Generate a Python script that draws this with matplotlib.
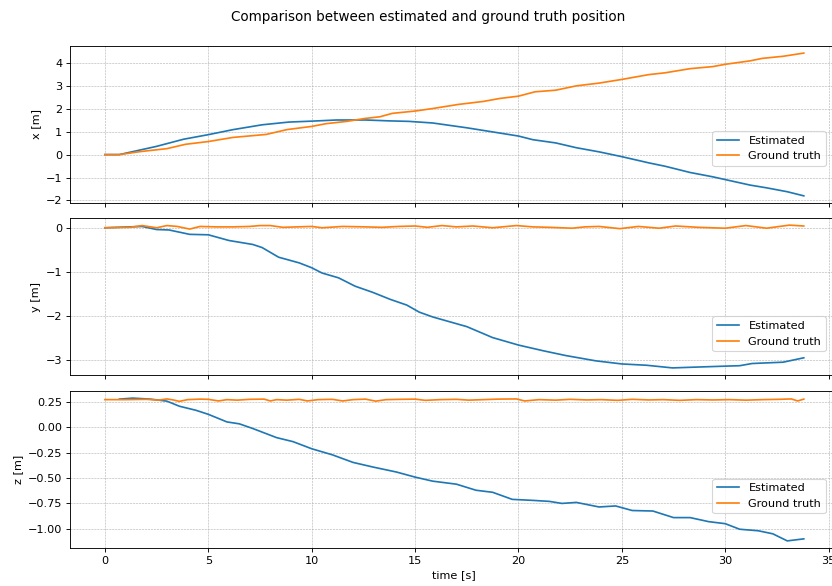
import matplotlib.pyplot as plt
from matplotlib.ticker import MultipleLocator

# x position [m]
t_est_x = [0, 0.7, 1.8, 2.5, 3.8, 5, 6.2, 7.6, 8.9, 10, 11.2, 12.6, 13.8, 14.7, 15.85,
           17.5, 19.1, 20, 20.7, 21.8, 22.8, 23.9, 25, 26.3, 27.1, 28.3, 29.4, 30, 31.2,
           32, 33, 33.8]
est_x = [0, 0.0, 0.22, 0.36, 0.67, 0.87, 1.09, 1.3, 1.42, 1.46, 1.51, 1.51, 1.47, 1.45, 1.38,
         1.17, 0.94, 0.81, 0.65, 0.51, 0.30, 0.12, -0.09, -0.36, -0.51, -0.78, -0.97, -1.09, -1.33,
         -1.45, -1.62, -1.80]
t_gt_x = [0, 0.7, 1.7, 3.0, 3.9, 5, 6.2, 7.8, 8.8, 10, 10.7, 11.7, 12.6, 13.3, 13.9, 15,
          15.85, 17.1, 18.3, 19.1, 20, 20.8, 21.8, 22.8, 23.9, 25, 26.3, 27.1, 28.3, 29.4, 30,
          31.2, 31.8, 32.8, 33.8]
gt_x = [0, 0.0, 0.13, 0.26, 0.45, 0.57, 0.75, 0.88, 1.09, 1.23, 1.35, 1.45, 1.58, 1.65, 1.80, 1.90,
        2.01, 2.19, 2.32, 2.45, 2.55, 2.74, 2.81, 3.0, 3.12, 3.28, 3.49, 3.57, 3.75, 3.84, 3.94,
        4.09, 4.20, 4.29, 4.43]

# y position [m]
t_est_y = [0, 1.8, 2.5, 3.1, 4.1, 5, 6.0, 7.15, 7.6, 8.4, 9.4, 10, 10.5, 11.3, 12.1, 12.95,
           13.8, 14.6, 15.2, 15.85, 17.5, 18.75, 20, 21.2, 22.3, 23.75, 25, 26.2, 27.45, 28.7,
           30, 30.7, 31.3, 32.8, 33.8]
est_y = [0, 0.03, -0.04, -0.05, -0.15, -0.16, -0.29, -0.38, -0.45, -0.67, -0.80, -0.91, -1.03,
         -1.14, -1.33, -1.47, -1.63, -1.76, -1.92, -2.03, -2.25, -2.50, -2.67, -2.80, -2.91, -3.03,
         -3.10, -3.13, -3.19, -3.17, -3.15, -3.14, -3.09, -3.06, -2.96]
t_gt_y = [0, 1.2, 1.8, 2.5, 3.0, 3.5, 4.1, 4.6, 5.4, 6.2, 7.0, 7.5, 8.0, 8.6, 9.3, 10, 10.5,
          11.5, 12.6, 13.4, 14.2, 15, 15.6, 16.3, 17.0, 17.8, 18.75, 19.9, 20.7, 21.5, 22.6,
          23.2, 23.9, 24.9, 25.8, 26.8, 27.6, 28.7, 30, 31, 32, 33.1, 33.8]
gt_y = [0, 0.01, 0.05, 0.0, 0.05, 0.03, -0.03, 0.03, 0.02, 0.02, 0.03, 0.05, 0.05, 0.01, 0.02,
        0.03, 0.0, 0.03, 0.02, 0.01, 0.03, 0.04, 0.01, 0.05, 0.02, 0.04, 0.0, 0.05, 0.02, 0.01,
        -0.01, 0.02, 0.03, -0.02, 0.03, -0.01, 0.04, 0.01, -0.01, 0.05, -0.01, 0.06, 0.04]

# z position [m]
t_est_z = [0.7, 1.35, 2.2, 3.0, 3.6, 4.4, 5, 5.9, 6.5, 7.15, 8.3, 9.1, 10, 11.0, 12.0, 12.95,
           14.1, 15.0, 15.85, 17, 17.95, 18.75, 19.7, 20.7, 21.5, 22.1, 22.8, 23.9, 24.7, 25.5,
           26.5, 27.5, 28.3, 29.2, 30, 30.7, 31.6, 32.3, 33.0, 33.8]
est_z = [0.28, 0.29, 0.28, 0.26, 0.21, 0.17, 0.13, 0.055, 0.036, -0.01, -0.10, -0.14, -0.21,
         -0.27, -0.345, -0.39, -0.44, -0.49, -0.53, -0.56, -0.62, -0.64, -0.71, -0.72, -0.73,
         -0.75, -0.74, -0.785, -0.775, -0.82, -0.825, -0.89, -0.89, -0.93, -0.95, -1.005, -1.02,
         -1.05, -1.12, -1.10]
t_gt_z = [0, 1.0, 2.0, 2.6, 3.0, 3.3, 3.6, 4.0, 4.6, 5.0, 5.5, 5.9, 6.4, 7.0, 7.7, 8.0, 8.3,
          8.8, 9.4, 9.8, 10.3, 11.0, 11.5, 12.0, 12.6, 13.1, 13.6, 14.3, 15.0, 15.5, 16.2, 17.0,
          17.6, 18.3, 19.0, 19.9, 20.3, 21.0, 21.8, 22.5, 23.3, 24.0, 24.8, 25.5, 26.3, 27.0,
          27.8, 28.6, 29.4, 30.2, 31.0, 31.8, 32.6, 33.2, 33.5, 33.8]
gt_z = [0.275, 0.275, 0.278, 0.27, 0.282, 0.272, 0.258, 0.275, 0.28, 0.278, 0.262, 0.275,
        0.27, 0.278, 0.28, 0.262, 0.275, 0.27, 0.278, 0.262, 0.275, 0.278, 0.262, 0.275, 0.28,
        0.26, 0.275, 0.278, 0.28, 0.268, 0.275, 0.278, 0.27, 0.275, 0.28, 0.282, 0.262, 0.275,
        0.27, 0.278, 0.272, 0.275, 0.268, 0.278, 0.272, 0.275, 0.268, 0.275, 0.272, 0.275, 0.27,
        0.275, 0.278, 0.282, 0.262, 0.28]

panels = [
    ("x [m]", t_est_x, est_x, t_gt_x, gt_x, 0.236, 1),
    ("y [m]", t_est_y, est_y, t_gt_y, gt_y, 0.153, 1),
    ("z [m]", t_est_z, est_z, t_gt_z, gt_z, 0.22, 0.25),
]

# rendered at a lower dpi so text and lines come out as small as in the reference
DPI = 81
fig = plt.figure(figsize=(832 / DPI, 586 / DPI), dpi=DPI)
# reference was cropped on the right, so the title sits a little right of centre
fig.suptitle("Comparison between estimated and ground truth position", x=0.514, y=0.983)

# axes extend a bit past the right edge, as in the reference
left, width, height = 0.0841, 0.924, 0.268
bottoms = [0.6536, 0.360, 0.0648]

axes = []
for i, (label, te, ve, tg, vg, leg_y, step) in enumerate(panels):
    ax = fig.add_axes([left, bottoms[i], width, height], sharex=axes[0] if axes else None)
    ax.plot(te, ve, label="Estimated", color="#1f77b4")
    ax.plot(tg, vg, label="Ground truth", color="#ff7f0e")
    ax.set_ylabel(label)
    ax.yaxis.set_major_locator(MultipleLocator(step))
    if step < 1:
        ax.yaxis.set_major_formatter("{x:.2f}")
    ax.grid(True, linestyle="--", linewidth=0.5, color="#b0b0b0")
    ax.legend(loc="lower right", bbox_to_anchor=(0.983, leg_y), borderaxespad=0)
    if i < 2:
        ax.tick_params(labelbottom=False)
    axes.append(ax)

axes[-1].set_xlabel("time [s]")
axes[0].set_xlim(-1.69, 35.49)

fig.savefig("out.png", dpi=DPI)
